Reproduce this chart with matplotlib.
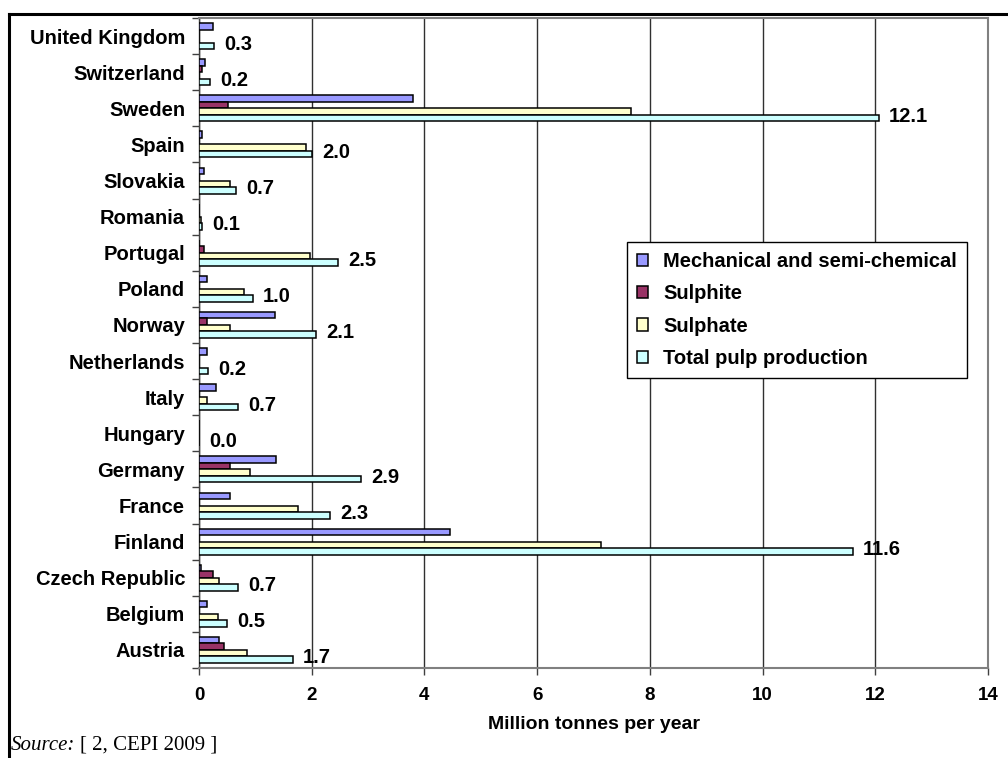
import matplotlib
matplotlib.use("Agg")
import matplotlib.pyplot as plt
from matplotlib.lines import Line2D
from matplotlib import font_manager
import numpy as np

countries = ["Austria", "Belgium", "Czech Republic", "Finland", "France", "Germany",
             "Hungary", "Italy", "Netherlands", "Norway", "Poland", "Portugal",
             "Romania", "Slovakia", "Spain", "Sweden", "Switzerland", "United Kingdom"]
mechanical = [0.36, 0.14, 0.03, 4.45, 0.55, 1.37, 0.0, 0.30, 0.14, 1.35, 0.14, 0.0,
              0.0, 0.08, 0.06, 3.80, 0.11, 0.24]
sulphite = [0.44, 0.0, 0.25, 0.0, 0.0, 0.55, 0.0, 0.0, 0.0, 0.14, 0.0, 0.09,
            0.0, 0.0, 0.0, 0.52, 0.06, 0.0]
sulphate = [0.86, 0.33, 0.36, 7.13, 1.75, 0.90, 0.0, 0.14, 0.0, 0.55, 0.79, 1.97,
            0.03, 0.55, 1.89, 7.66, 0.0, 0.0]
total = [1.66, 0.49, 0.69, 11.60, 2.32, 2.87, 0.0, 0.69, 0.16, 2.08, 0.96, 2.46,
         0.06, 0.66, 2.00, 12.06, 0.20, 0.26]

series_names = ["Mechanical and semi-chemical", "Sulphite", "Sulphate", "Total pulp production"]
series_colors = ["#9999FF", "#993366", "#FFFFCC", "#CCFFFF"]
xticks = [0, 2, 4, 6, 8, 10, 12, 14]

avail = {f.name for f in font_manager.fontManager.ttflist}
narrow = "Liberation Sans Narrow" if "Liberation Sans Narrow" in avail else "Liberation Sans"
plt.rcParams["font.family"] = ["Liberation Sans", "DejaVu Sans"]
serif = ["Liberation Serif", "DejaVu Serif"]

fig = plt.figure(figsize=(10.08, 7.58), dpi=100)
ax = fig.add_axes([199 / 1008, 1 - 668 / 758, (988 - 199) / 1008, (668 - 18) / 758])

y = np.arange(len(countries))
h = 0.18
offsets = [1.5 * h, 0.5 * h, -0.5 * h, -1.5 * h]
for vals, name, col, off in zip([mechanical, sulphite, sulphate, total],
                                series_names, series_colors, offsets):
    ax.barh(y + off, vals, height=h, color=col, edgecolor="black", linewidth=1.1,
            label=name, zorder=3)

for yi, v in zip(y, total):
    ax.text(v + 0.18, yi + offsets[3] + 0.05, f"{v:.1f}", ha="left", va="center",
            fontsize=14.5, fontweight="bold", zorder=4)

ax.set_xlim(0, 14)
ax.set_ylim(-0.5, len(countries) - 0.5)
ax.set_xticks(xticks)
ax.set_xticklabels([str(t) for t in xticks], fontfamily=narrow, fontweight="bold", fontsize=13.5)
ax.set_yticks(y)
ax.set_yticklabels(countries, fontweight="bold", fontsize=14.5)
ax.set_yticks(np.arange(len(countries) + 1) - 0.5, minor=True)
ax.tick_params(axis="y", which="major", length=0, pad=10)
ax.tick_params(axis="y", which="minor", length=5, width=1, color="#404040", direction="out")
ax.tick_params(axis="x", length=5, width=1, color="#404040", direction="out", pad=9)
ax.xaxis.grid(True, color="#303030", linewidth=1.0, zorder=0)
ax.set_axisbelow(True)
for side in ["top", "right", "bottom"]:
    ax.spines[side].set_color("#808080")
    ax.spines[side].set_linewidth(1.5)
ax.spines["left"].set_color("#404040")
ax.spines["left"].set_linewidth(1.0)

ax.set_xlabel("Million tonnes per year", fontfamily=narrow, fontweight="bold",
              fontsize=14, labelpad=8)

leg = ax.legend(loc="upper left", bbox_to_anchor=((627 - 199) / 789, 1 - (242 - 18) / 650),
                frameon=True, fancybox=False, edgecolor="black", framealpha=1,
                prop={"weight": "bold", "size": 14.5}, handlelength=0.55, handleheight=0.55,
                handletextpad=0.75, labelspacing=0.66, borderpad=0.5, borderaxespad=0)
leg.get_frame().set_linewidth(1.0)

# outer frame of the figure (top and left)
fig.add_artist(Line2D([9 / 1008, 1.0], [1 - 14 / 758, 1 - 14 / 758], color="black",
                      linewidth=2.2, transform=fig.transFigure))
fig.add_artist(Line2D([9 / 1008, 9 / 1008], [0, 1 - 14 / 758], color="black",
                      linewidth=2.2, transform=fig.transFigure))

fig.text(11 / 1008, 1 - 745 / 758, "Source:", fontfamily=serif,
         fontstyle="italic", fontsize=15, va="center", ha="left")
fig.text(80 / 1008, 1 - 745 / 758, "[ 2, CEPI 2009 ]", fontfamily=serif,
         fontsize=15, va="center", ha="left")

fig.savefig("out.png", dpi=100)
